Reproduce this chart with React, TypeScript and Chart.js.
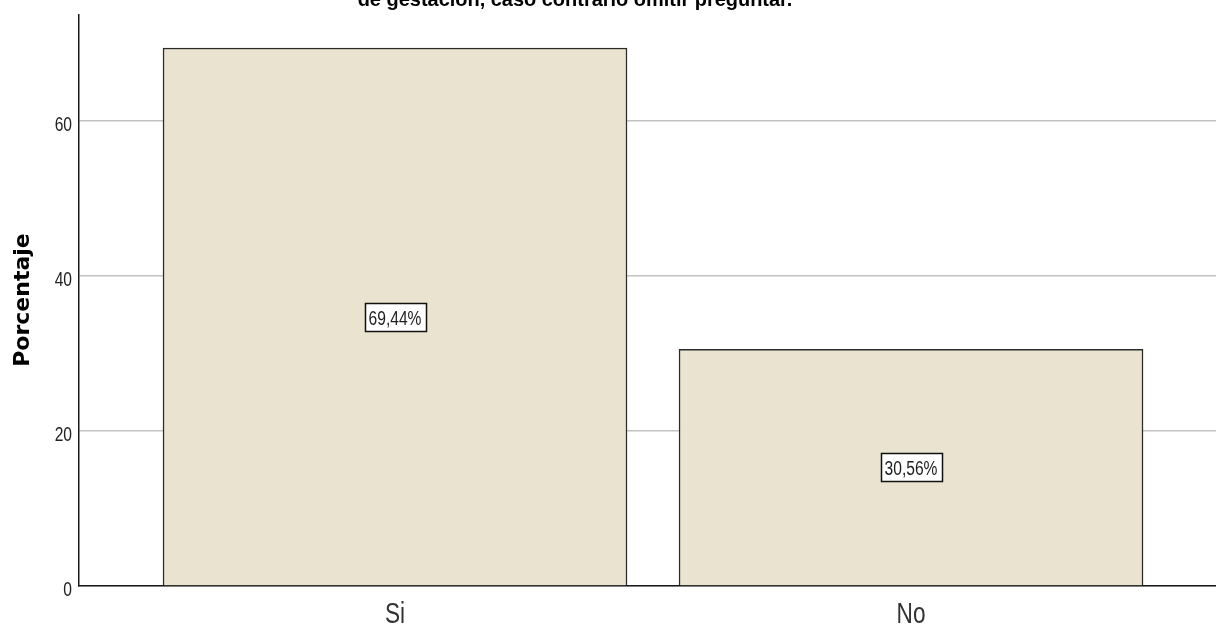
import React, { useEffect, useRef } from "react";
import { Chart, registerables } from "chart.js";

Chart.register(...registerables);

const categories = ["Si", "No"];
const percentages = [69.44, 30.56];
const yTicks = [0, 20, 40, 60];
const yMax = 73.7;
const titleText = "de gestación, caso contrario omitir preguntar.";
const yAxisTitle = "Porcentaje";

const SANS = '"Liberation Sans", Arial, sans-serif';
const BOLD = '"DejaVu Sans", "Liberation Sans", sans-serif';
const NARROW_SCALE = 0.78;

const fmt = (v: number) => v.toFixed(2).replace(".", ",") + "%";

function drawNarrow(
  ctx: CanvasRenderingContext2D,
  text: string,
  x: number,
  y: number,
  align: CanvasTextAlign,
  size: number,
  color: string
) {
  ctx.save();
  ctx.translate(x, y);
  ctx.scale(NARROW_SCALE, 1);
  ctx.font = size + "px " + SANS;
  ctx.fillStyle = color;
  ctx.textAlign = align;
  ctx.textBaseline = "alphabetic";
  ctx.fillText(text, 0, 0);
  ctx.restore();
}

const decorPlugin = {
  id: "decor",
  afterDatasetsDraw(chart: any) {
    const ctx = chart.ctx as CanvasRenderingContext2D;
    const meta = chart.getDatasetMeta(0);
    ctx.save();
    meta.data.forEach((bar: any, i: number) => {
      const cx = bar.x;
      const cy = (bar.y + bar.base) / 2;
      const w = 61;
      const h = 28;
      const left = Math.round(cx - w / 2) + 0.5;
      const top = Math.round(cy - h / 2) + 0.5;
      ctx.fillStyle = "#ffffff";
      ctx.fillRect(left, top, w, h);
      ctx.strokeStyle = "#111111";
      ctx.lineWidth = 1.5;
      ctx.strokeRect(left, top, w, h);
      drawNarrow(ctx, fmt(percentages[i]), cx, cy + 8, "center", 20, "#1e1e1e");
    });
    ctx.restore();
  },
  afterDraw(chart: any) {
    const ctx = chart.ctx as CanvasRenderingContext2D;
    const xs = chart.scales.x;
    const ys = chart.scales.y;
    // y tick labels
    yTicks.forEach((v) => {
      drawNarrow(ctx, String(v), ys.right - 7, ys.getPixelForValue(v) + 10, "right", 20, "#222222");
    });
    // x tick labels
    categories.forEach((c, i) => {
      drawNarrow(ctx, c, xs.getPixelForValue(i), 623, "center", 29, "#333333");
    });
    ctx.save();
    // partially visible title
    ctx.font = "bold 20px " + SANS;
    const m = ctx.measureText(titleText).width;
    const size = (20 * 435) / m;
    ctx.font = "bold " + size.toFixed(2) + "px " + SANS;
    ctx.fillStyle = "#000000";
    ctx.textAlign = "center";
    ctx.textBaseline = "alphabetic";
    ctx.fillText(titleText, 575, 6);
    // y-axis title
    ctx.translate(29, 300);
    ctx.rotate(-Math.PI / 2);
    ctx.font = "bold 22px " + BOLD;
    ctx.fillText(yAxisTitle, 0, 0);
    ctx.restore();
  },
};

export default function App() {
  const ref = useRef<HTMLCanvasElement | null>(null);
  useEffect(() => {
    if (!ref.current) return;
    const chart = new Chart(ref.current, {
      type: "bar",
      data: {
        datasets: [
          {
            data: percentages.map((v, i) => ({ x: i, y: v })),
            backgroundColor: "#E9E3CF",
            borderColor: "#2a2a2a",
            borderWidth: 1.5,
            barThickness: 464,
          },
        ],
      },
      options: {
        responsive: false,
        animation: false,
        layout: { padding: { top: 15, right: 0, left: 0, bottom: 0 } },
        plugins: { legend: { display: false }, tooltip: { enabled: false }, title: { display: false } },
        scales: {
          x: {
            type: "linear",
            offset: false,
            min: -0.6124,
            max: 1.591,
            grid: { display: false, drawTicks: false },
            border: { display: true, color: "#1a1a1a", width: 1.5 },
            afterBuildTicks: (scale: any) => {
              scale.ticks = categories.map((_, i) => ({ value: i }));
            },
            afterFit: (scale: any) => {
              scale.height = 39;
            },
            ticks: { display: false },
          },
          y: {
            type: "linear",
            min: 0,
            max: yMax,
            grid: { color: "#c2c2c2", lineWidth: 1.5, drawTicks: false },
            border: { display: true, color: "#1a1a1a", width: 1.5 },
            afterBuildTicks: (scale: any) => {
              scale.ticks = yTicks.map((v) => ({ value: v }));
            },
            afterFit: (scale: any) => {
              scale.width = 79;
            },
            ticks: { display: false },
          },
        },
      },
      plugins: [decorPlugin],
    });
    return () => chart.destroy();
  }, []);
  return (
    <div style={{ position: "absolute", left: 0, top: 0, width: 1216, height: 625, background: "#ffffff" }}>
      <canvas ref={ref} width={1216} height={625} style={{ display: "block" }} />
    </div>
  );
}
